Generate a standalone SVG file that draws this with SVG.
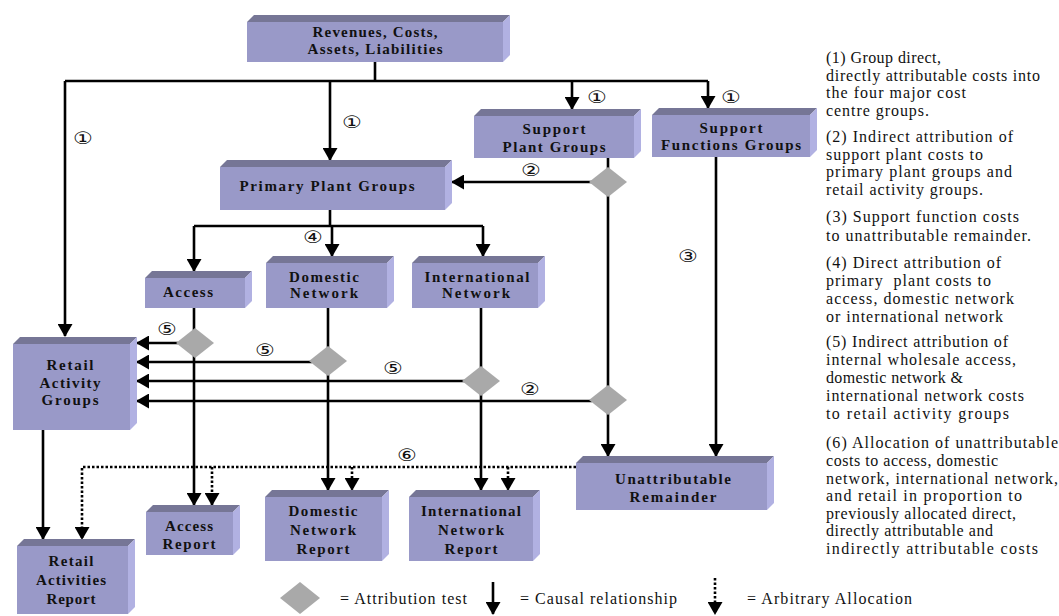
<svg xmlns="http://www.w3.org/2000/svg" width="1059" height="616" viewBox="0 0 1059 616">
  <style>
    .front { fill: #9999c8; }
    .top { fill: #767696; }
    .side { fill: #b1b1e2; }
    .lbl { font-family: "Liberation Serif", "DejaVu Serif", serif; font-weight: bold; font-size: 15px; fill: #111; text-anchor: middle; }
    .note { font-family: "Liberation Serif", "DejaVu Serif", serif; font-size: 16px; fill: #111; }
    .num { font-family: "DejaVu Sans", "Noto Sans CJK JP", sans-serif; font-size: 17px; fill: #111; text-anchor: middle; dominant-baseline: central; }
    .wire { fill: none; stroke: #000; stroke-width: 2.6; }
    .dot { fill: none; stroke: #000; stroke-width: 2.6; stroke-dasharray: 2.5 2; }
    .test { fill: #a9a9a9; }
  </style>
  <defs>
    <marker id="ah" viewBox="0 0 13 15" refX="12" refY="7.5" markerWidth="13" markerHeight="15" markerUnits="userSpaceOnUse" orient="auto">
      <path d="M0,0 L13,7.5 L0,15 Z" fill="#000"/>
    </marker>
  </defs>

  <rect width="1059" height="616" fill="#fff"/>

  <!-- connectors -->
  <g id="connectors">
    <path class="wire" d="M375,62 V81"/>
    <path class="wire" d="M65,81 H708"/>
    <path class="wire" d="M65,81 V336" marker-end="url(#ah)"/>
    <path class="wire" d="M330,81 V160" marker-end="url(#ah)"/>
    <path class="wire" d="M572,81 V109" marker-end="url(#ah)"/>
    <path class="wire" d="M708,81 V108" marker-end="url(#ah)"/>
    <path class="wire" d="M608,158 V456" marker-end="url(#ah)"/>
    <path class="wire" d="M592,182 H452" marker-end="url(#ah)"/>
    <path class="wire" d="M716,157 V456" marker-end="url(#ah)"/>
    <path class="wire" d="M330,210 V226"/>
    <path class="wire" d="M194,226 H483"/>
    <path class="wire" d="M194,226 V271" marker-end="url(#ah)"/>
    <path class="wire" d="M332,226 V256" marker-end="url(#ah)"/>
    <path class="wire" d="M483,226 V256" marker-end="url(#ah)"/>
    <path class="wire" d="M194,308 V505" marker-end="url(#ah)"/>
    <path class="wire" d="M178,343 H137" marker-end="url(#ah)"/>
    <path class="wire" d="M328,308 V490" marker-end="url(#ah)"/>
    <path class="wire" d="M312,362 H137" marker-end="url(#ah)"/>
    <path class="wire" d="M481,308 V490" marker-end="url(#ah)"/>
    <path class="wire" d="M465,381 H137" marker-end="url(#ah)"/>
    <path class="wire" d="M592,401 H137" marker-end="url(#ah)"/>
    <path class="wire" d="M43,430 V539" marker-end="url(#ah)"/>
    <path class="dot" d="M576,467 H82 V539" marker-end="url(#ah)"/>
    <path class="dot" d="M212,467 V505" marker-end="url(#ah)"/>
    <path class="dot" d="M352,467 V490" marker-end="url(#ah)"/>
    <path class="dot" d="M508,467 V490" marker-end="url(#ah)"/>
  </g>

  <!-- attribution tests -->
  <g id="test-support-plant"><polygon class="test" points="608,167 627,182 608,197 589,182"/></g>
  <g id="test-support-plant-retail"><polygon class="test" points="608,385 627,400 608,415 589,400"/></g>
  <g id="test-access"><polygon class="test" points="195,328 214,343 195,358 176,343"/></g>
  <g id="test-domestic"><polygon class="test" points="328,346 347,361 328,376 309,361"/></g>
  <g id="test-international"><polygon class="test" points="481,366 500,381 481,396 462,381"/></g>

  <!-- cost centre boxes -->
  <g id="revenues">
    <rect class="front" x="247" y="22" width="256" height="40"/>
    <polygon class="top" points="247,22 254,15 510,15 503,22"/>
    <polygon class="side" points="503,22 510,15 510,55 503,62"/>
    <text class="lbl" x="375" y="37" textLength="125">Revenues, Costs,</text>
    <text class="lbl" x="375" y="54" textLength="135">Assets, Liabilities</text>
  </g>
  <g id="support-plant">
    <rect class="front" x="474" y="116" width="160" height="42"/>
    <polygon class="top" points="474,116 481,109 641,109 634,116"/>
    <polygon class="side" points="634,116 641,109 641,151 634,158"/>
    <text class="lbl" x="554" y="134" textLength="63">Support</text>
    <text class="lbl" x="554" y="152" textLength="103">Plant Groups</text>
  </g>
  <g id="support-functions">
    <rect class="front" x="652" y="115" width="158" height="42"/>
    <polygon class="top" points="652,115 659,108 817,108 810,115"/>
    <polygon class="side" points="810,115 817,108 817,150 810,157"/>
    <text class="lbl" x="731" y="133" textLength="63">Support</text>
    <text class="lbl" x="731" y="150" textLength="140">Functions Groups</text>
  </g>
  <g id="primary-plant">
    <rect class="front" x="220" y="167" width="225" height="43"/>
    <polygon class="top" points="220,167 227,160 452,160 445,167"/>
    <polygon class="side" points="445,167 452,160 452,203 445,210"/>
    <text class="lbl" x="327" y="191" textLength="175">Primary Plant Groups</text>
  </g>
  <g id="access">
    <rect class="front" x="145" y="278" width="100" height="30"/>
    <polygon class="top" points="145,278 152,271 252,271 245,278"/>
    <polygon class="side" points="245,278 252,271 252,301 245,308"/>
    <text class="lbl" x="188" y="297" textLength="50">Access</text>
  </g>
  <g id="domestic-network">
    <rect class="front" x="266" y="263" width="121" height="45"/>
    <polygon class="top" points="266,263 273,256 394,256 387,263"/>
    <polygon class="side" points="387,263 394,256 394,301 387,308"/>
    <text class="lbl" x="324" y="282" textLength="70">Domestic</text>
    <text class="lbl" x="324" y="298" textLength="68">Network</text>
  </g>
  <g id="international-network">
    <rect class="front" x="412" y="263" width="126" height="45"/>
    <polygon class="top" points="412,263 419,256 545,256 538,263"/>
    <polygon class="side" points="538,263 545,256 545,301 538,308"/>
    <text class="lbl" x="477" y="282" textLength="105">International</text>
    <text class="lbl" x="476" y="298" textLength="68">Network</text>
  </g>
  <g id="retail-activity">
    <rect class="front" x="13" y="344" width="117" height="86"/>
    <polygon class="top" points="13,344 20,337 137,337 130,344"/>
    <polygon class="side" points="130,344 137,337 137,423 130,430"/>
    <text class="lbl" x="70" y="370" textLength="47">Retail</text>
    <text class="lbl" x="70" y="388" textLength="61">Activity</text>
    <text class="lbl" x="70" y="405" textLength="57">Groups</text>
  </g>
  <g id="unattributable">
    <rect class="front" x="576" y="463" width="191" height="47"/>
    <polygon class="top" points="576,463 583,456 774,456 767,463"/>
    <polygon class="side" points="767,463 774,456 774,503 767,510"/>
    <text class="lbl" x="673" y="484" textLength="116">Unattributable</text>
    <text class="lbl" x="673" y="502" textLength="87">Remainder</text>
  </g>
  <g id="retail-report">
    <rect class="front" x="17" y="546" width="111" height="68"/>
    <polygon class="top" points="17,546 24,539 135,539 128,546"/>
    <polygon class="side" points="128,546 135,539 135,607 128,614"/>
    <text class="lbl" x="71" y="566" textLength="45">Retail</text>
    <text class="lbl" x="71" y="585" textLength="70">Activities</text>
    <text class="lbl" x="71" y="604" textLength="49">Report</text>
  </g>
  <g id="access-report">
    <rect class="front" x="146" y="512" width="87" height="43"/>
    <polygon class="top" points="146,512 153,505 240,505 233,512"/>
    <polygon class="side" points="233,512 240,505 240,548 233,555"/>
    <text class="lbl" x="189" y="531" textLength="48">Access</text>
    <text class="lbl" x="189" y="549" textLength="53">Report</text>
  </g>
  <g id="domestic-report">
    <rect class="front" x="265" y="497" width="117" height="64"/>
    <polygon class="top" points="265,497 272,490 389,490 382,497"/>
    <polygon class="side" points="382,497 389,490 389,554 382,561"/>
    <text class="lbl" x="323" y="516" textLength="69">Domestic</text>
    <text class="lbl" x="323" y="535" textLength="66">Network</text>
    <text class="lbl" x="323" y="554" textLength="53">Report</text>
  </g>
  <g id="international-report">
    <rect class="front" x="409" y="497" width="124" height="64"/>
    <polygon class="top" points="409,497 416,490 540,490 533,497"/>
    <polygon class="side" points="533,497 540,490 540,554 533,561"/>
    <text class="lbl" x="471" y="516" textLength="100">International</text>
    <text class="lbl" x="471" y="535" textLength="66">Network</text>
    <text class="lbl" x="471" y="554" textLength="53">Report</text>
  </g>

  <!-- step numbers -->
  <g id="steps">
    <text class="num" transform="translate(83,138) scale(1.3,1)">①</text>
    <text class="num" transform="translate(352,122) scale(1.3,1)">①</text>
    <text class="num" transform="translate(597,97) scale(1.3,1)">①</text>
    <text class="num" transform="translate(731,97) scale(1.3,1)">①</text>
    <text class="num" transform="translate(531,170) scale(1.3,1)">②</text>
    <text class="num" transform="translate(313,237) scale(1.3,1)">④</text>
    <text class="num" transform="translate(688,256) scale(1.3,1)">③</text>
    <text class="num" transform="translate(167,329) scale(1.3,1)">⑤</text>
    <text class="num" transform="translate(265,350) scale(1.3,1)">⑤</text>
    <text class="num" transform="translate(393,368) scale(1.3,1)">⑤</text>
    <text class="num" transform="translate(530,389) scale(1.3,1)">②</text>
    <text class="num" transform="translate(407,455) scale(1.3,1)">⑥</text>
  </g>

  <!-- notes -->
  <g id="notes">
    <text class="note" x="826" y="63" textLength="115">(1) Group direct,</text>
    <text class="note" x="826" y="80.5" textLength="214">directly attributable costs into</text>
    <text class="note" x="826" y="98" textLength="140">the four major cost</text>
    <text class="note" x="826" y="115.5" textLength="103">centre groups.</text>

    <text class="note" x="826" y="142" textLength="187">(2) Indirect attribution of</text>
    <text class="note" x="826" y="159.5" textLength="157">support plant costs to</text>
    <text class="note" x="826" y="177" textLength="186">primary plant groups and</text>
    <text class="note" x="826" y="194.5" textLength="157">retail activity groups.</text>

    <text class="note" x="826" y="222" textLength="193">(3) Support function costs</text>
    <text class="note" x="826" y="240.5" textLength="205">to unattributable remainder.</text>

    <text class="note" x="826" y="268" textLength="175">(4) Direct attribution of</text>
    <text class="note" x="826" y="286" textLength="165" xml:space="preserve">primary  plant costs to</text>
    <text class="note" x="826" y="304" textLength="188">access, domestic network</text>
    <text class="note" x="826" y="322" textLength="177">or international network</text>

    <text class="note" x="826" y="347" textLength="182">(5) Indirect attribution of</text>
    <text class="note" x="826" y="365" textLength="190">internal wholesale access,</text>
    <text class="note" x="826" y="383" textLength="137">domestic network &amp;</text>
    <text class="note" x="826" y="401" textLength="198">international network costs</text>
    <text class="note" x="826" y="419" textLength="183">to retail activity groups</text>

    <text class="note" x="826" y="448" textLength="232">(6) Allocation of unattributable</text>
    <text class="note" x="826" y="466" textLength="172">costs to access, domestic</text>
    <text class="note" x="826" y="484" textLength="232">network, international network,</text>
    <text class="note" x="826" y="501" textLength="196">and retail in proportion to</text>
    <text class="note" x="826" y="519" textLength="190">previously allocated direct,</text>
    <text class="note" x="826" y="536" textLength="167">directly attributable and</text>
    <text class="note" x="826" y="554" textLength="212">indirectly attributable costs</text>
  </g>

  <!-- legend -->
  <g id="legend">
    <polygon class="test" points="300,582 320,598 300,614 280,598"/>
    <text class="note" x="340" y="604" textLength="127">= Attribution test</text>
    <path class="wire" d="M493,582 V614" marker-end="url(#ah)"/>
    <text class="note" x="520" y="604" textLength="157">= Causal relationship</text>
    <path class="dot" d="M715,578 V614" marker-end="url(#ah)"/>
    <text class="note" x="747" y="604" textLength="165">= Arbitrary Allocation</text>
  </g>
</svg>
